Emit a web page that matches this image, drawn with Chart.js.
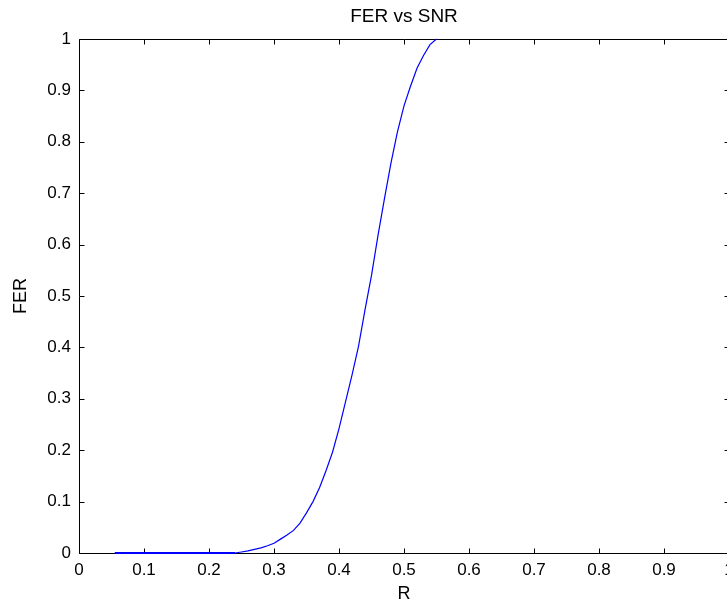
<!DOCTYPE html>
<html>
<head>
<meta charset="utf-8">
<script src="https://cdn.jsdelivr.net/npm/chart.js@4"></script>
<style>
    html, body { margin: 0; padding: 0; background: #fff; overflow: hidden; }
    #wrap { position: absolute; left: 0; top: 0; width: 776px; height: 605px; }
</style>
</head>
<body>
<div id="wrap"><canvas id="ferChart" width="776" height="605"></canvas></div>
<script>
// R values
const rValues = [
    0.055, 0.06, 0.07, 0.08, 0.09, 0.10, 0.11, 0.12, 0.13, 0.14,
    0.15, 0.16, 0.17, 0.18, 0.19, 0.20, 0.21, 0.22, 0.23, 0.24,
    0.25, 0.26, 0.27, 0.28, 0.29, 0.30, 0.31, 0.32, 0.33, 0.34,
    0.35, 0.36, 0.37, 0.38, 0.39, 0.40, 0.41, 0.42, 0.43, 0.44,
    0.45, 0.46, 0.47, 0.48, 0.49, 0.50, 0.51, 0.52, 0.53, 0.54, 0.55
];
// FER at each R
const ferValues = [
    0, 0, 0, 0, 0, 0, 0, 0, 0, 0,
    0, 0, 0, 0, 0, 0, 0, 0, 0, 0,
    0.002, 0.004, 0.007, 0.010, 0.014, 0.019, 0.027, 0.035, 0.044, 0.058,
    0.078, 0.100, 0.127, 0.160, 0.196, 0.242, 0.294, 0.346, 0.402, 0.473,
    0.540, 0.618, 0.690, 0.759, 0.820, 0.870, 0.908, 0.943, 0.968, 0.989, 1.0
];
const xTicks = [0, 0.1, 0.2, 0.3, 0.4, 0.5, 0.6, 0.7, 0.8, 0.9, 1];
const yTicks = [0, 0.1, 0.2, 0.3, 0.4, 0.5, 0.6, 0.7, 0.8, 0.9, 1];

const FONT = '"Liberation Sans", Arial, Helvetica, sans-serif';
const TICK_LEN = 5;

const fmt = (v) => String(Math.round(v * 10) / 10);

// matlab style box with inward ticks on all four sides
const matlabBox = {
    id: 'matlabBox',
    beforeDatasetsDraw(chart) {
        let { ctx, chartArea, scales } = chart;
        let left = Math.round(chartArea.left) + 0.5;
        let right = Math.round(chartArea.right) + 0.5;
        let top = Math.round(chartArea.top) + 0.5;
        let bottom = Math.round(chartArea.bottom) + 0.5;
        ctx.save();
        ctx.strokeStyle = '#000';
        ctx.lineWidth = 1;
        ctx.beginPath();
        ctx.rect(left, top, right - left, bottom - top);
        for (let v of xTicks) {
            let px = Math.round(scales.x.getPixelForValue(v)) + 0.5;
            ctx.moveTo(px, bottom); ctx.lineTo(px, bottom - TICK_LEN);
            ctx.moveTo(px, top); ctx.lineTo(px, top + TICK_LEN);
        }
        for (let v of yTicks) {
            let py = Math.round(scales.y.getPixelForValue(v)) + 0.5;
            ctx.moveTo(left, py); ctx.lineTo(left + TICK_LEN, py);
            ctx.moveTo(right, py); ctx.lineTo(right - TICK_LEN, py);
        }
        ctx.stroke();
        ctx.restore();
    }
};

const points = rValues.map((r, i) => ({ x: r, y: ferValues[i] }));

new Chart(document.getElementById('ferChart').getContext('2d'), {
    type: 'line',
    data: {
        datasets: [{
            data: points,
            borderColor: 'rgb(0, 0, 255)',
            borderWidth: 1.2,
            pointRadius: 0,
            tension: 0,
            fill: false,
            clip: false,
            segment: {
                // the flat run sits on the axis line and reads thicker there
                borderWidth: (ctx) => (ctx.p0.parsed.y === 0 && ctx.p1.parsed.y === 0) ? 2 : 1.2
            }
        }]
    },
    options: {
        responsive: false,
        animation: false,
        layout: { padding: { left: 0, right: 47, top: 0, bottom: 0 } },
        plugins: {
            legend: { display: false },
            tooltip: { enabled: false },
            title: {
                display: true,
                fullSize: false, // centred over the axes like matlab
                text: 'FER vs SNR',
                color: '#000',
                font: { family: FONT, size: 19, weight: 'normal' },
                padding: { top: 5, bottom: 11.2 }
            }
        },
        scales: {
            x: {
                type: 'linear',
                min: 0,
                max: 1,
                afterFit: (scale) => { scale.height = 52; },
                afterBuildTicks: (scale) => { scale.ticks = xTicks.map(v => ({ value: v })); },
                grid: { display: false, drawTicks: false },
                border: { display: false },
                ticks: {
                    color: '#000',
                    padding: 7,
                    maxRotation: 0,
                    autoSkip: false,
                    font: { family: FONT, size: 17 },
                    callback: fmt
                },
                title: {
                    display: true,
                    text: 'R',
                    color: '#000',
                    font: { family: FONT, size: 18 },
                    padding: { top: 0, bottom: 0 }
                }
            },
            y: {
                type: 'linear',
                min: 0,
                max: 1,
                afterFit: (scale) => { scale.width = 79; },
                afterBuildTicks: (scale) => { scale.ticks = yTicks.map(v => ({ value: v })); },
                grid: { display: false, drawTicks: false },
                border: { display: false },
                ticks: {
                    color: '#000',
                    padding: 8,
                    autoSkip: false,
                    font: { family: FONT, size: 17 },
                    callback: fmt
                },
                title: {
                    display: true,
                    text: 'FER',
                    color: '#000',
                    font: { family: FONT, size: 18 },
                    padding: { top: 10.7, bottom: 0 }
                }
            }
        }
    },
    plugins: [matlabBox]
});
</script>
</body>
</html>
